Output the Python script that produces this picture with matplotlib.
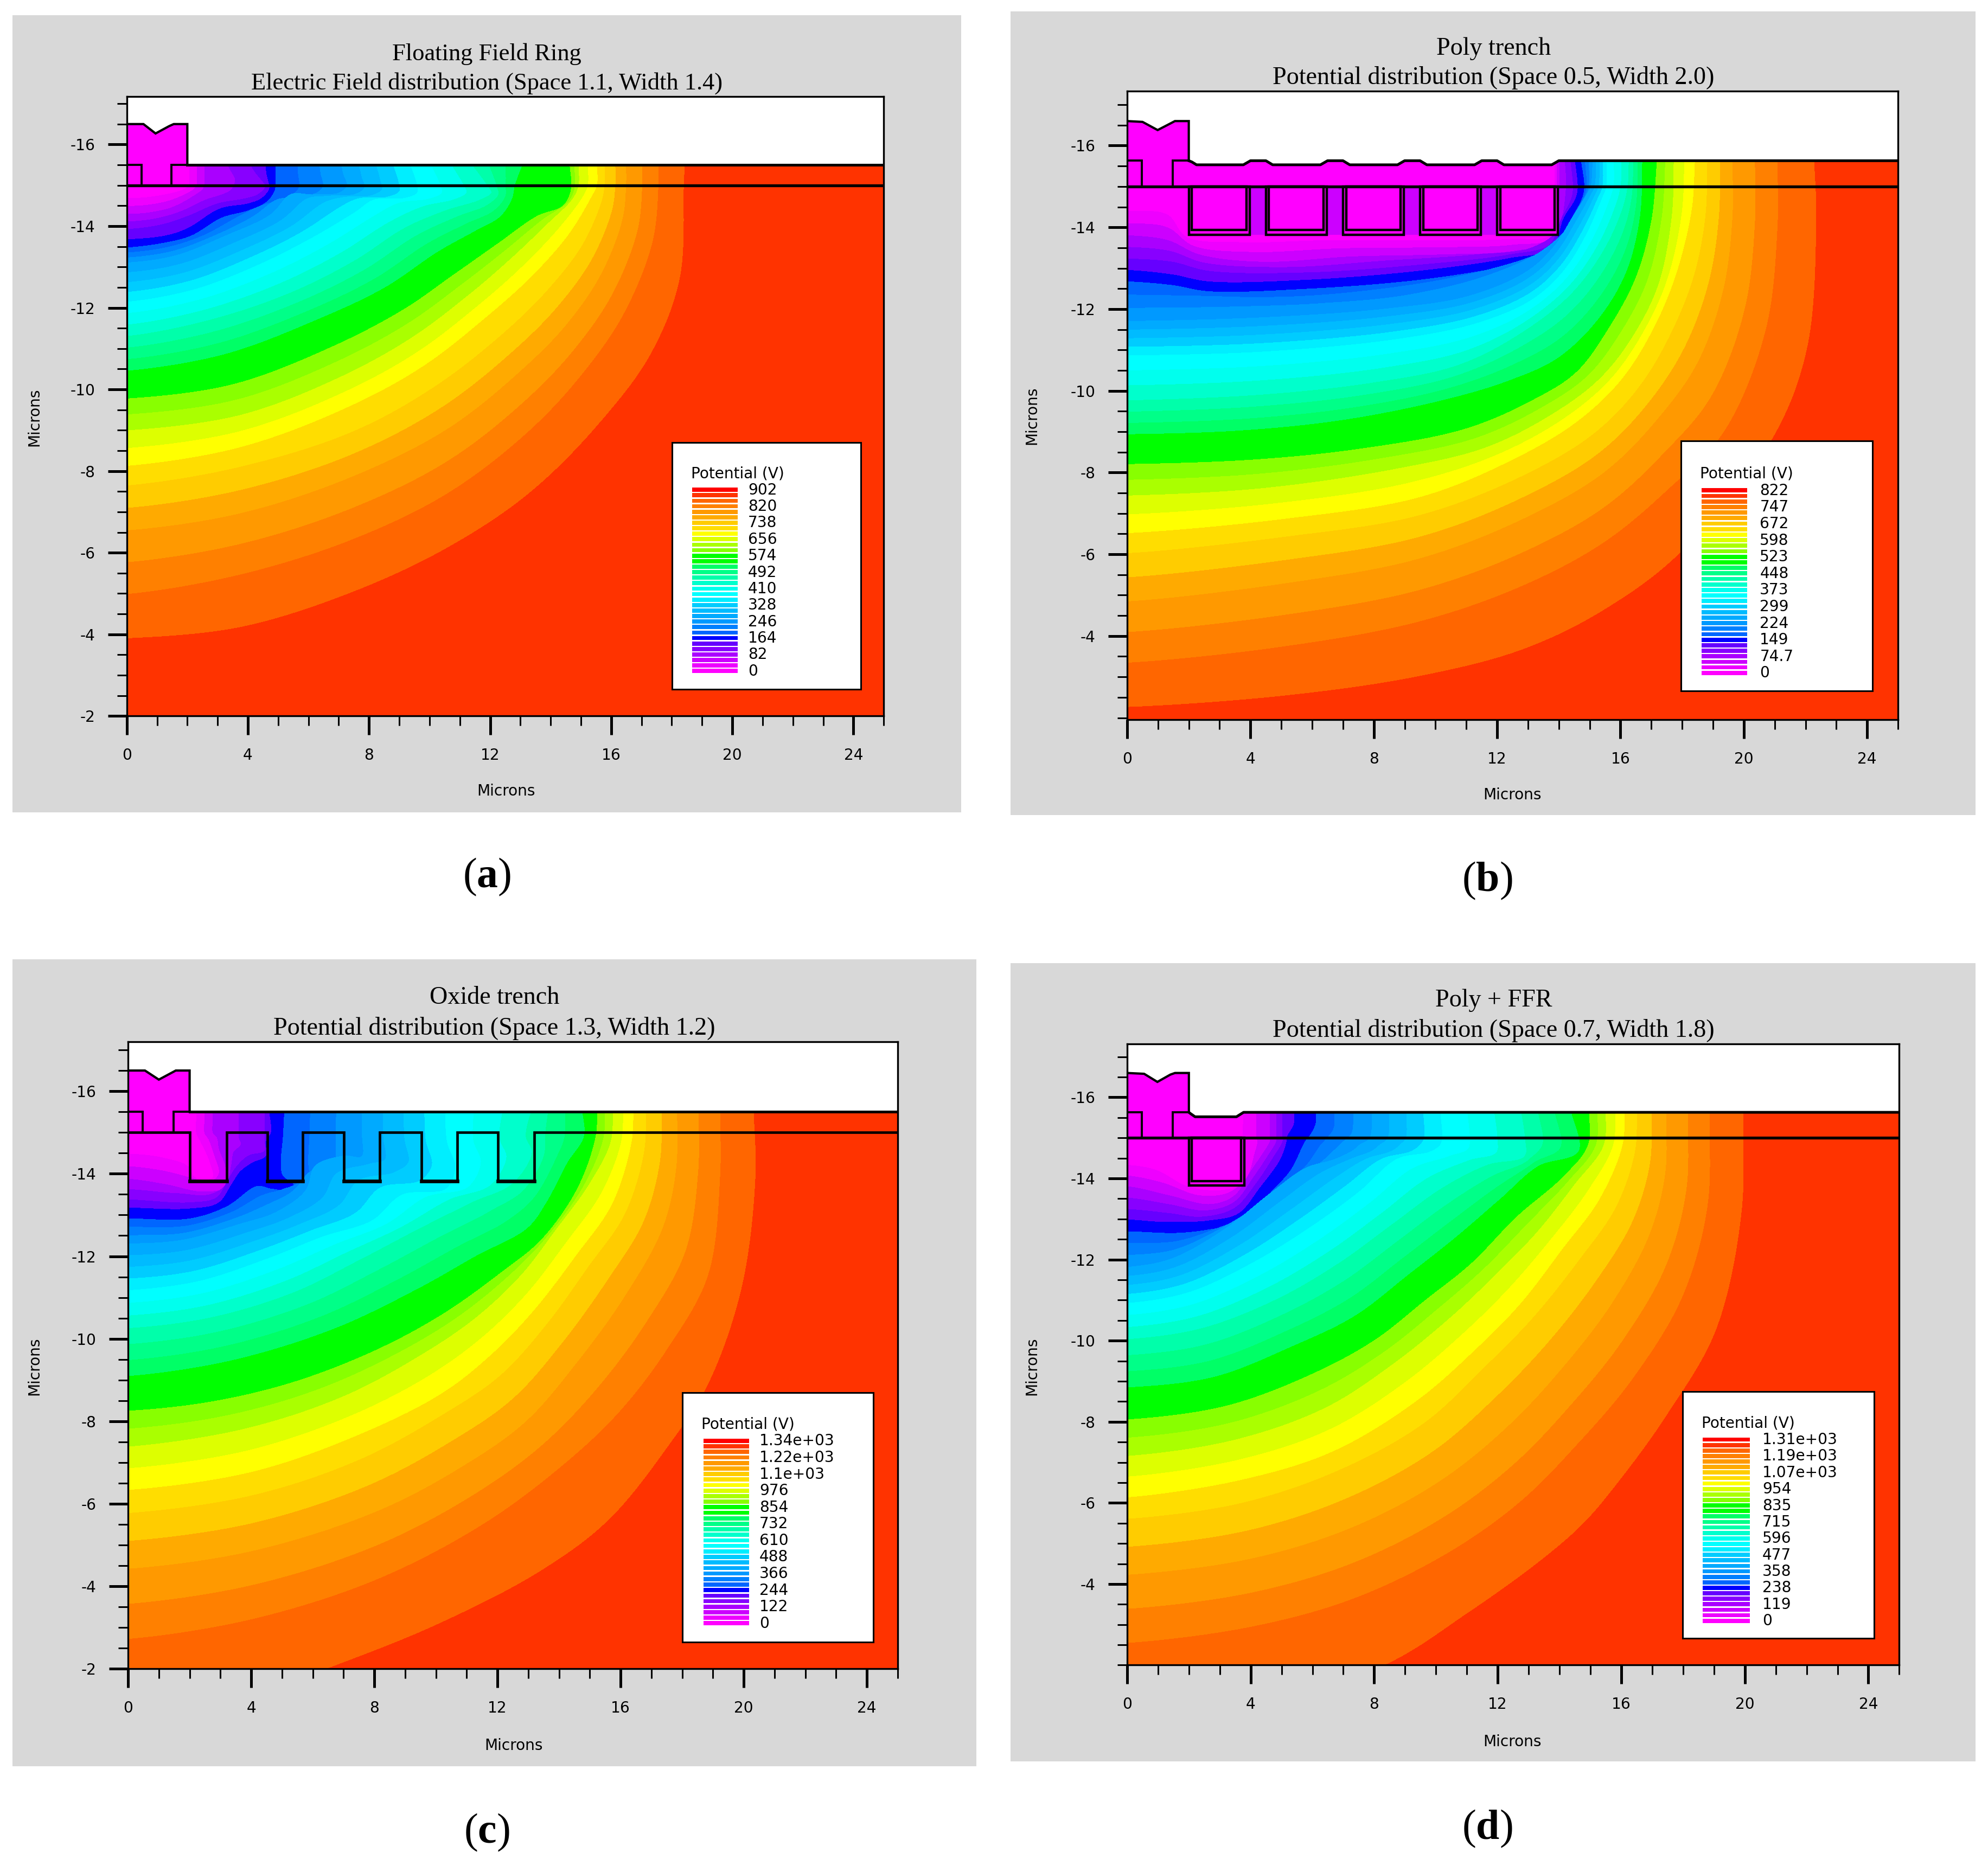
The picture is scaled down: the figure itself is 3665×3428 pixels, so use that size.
import numpy as np
import matplotlib
matplotlib.use("Agg")
import matplotlib.pyplot as plt
from matplotlib.patches import Rectangle, Polygon
from matplotlib.ticker import MultipleLocator

plt.rcParams['mathtext.fontset'] = 'custom'
plt.rcParams['mathtext.bf'] = 'Liberation Serif:bold'
plt.rcParams['mathtext.rm'] = 'Liberation Serif'

# Legend colours, top (bar 1) to bottom (bar 34)
LEGEND_COLORS = ['#ff0000','#ff3300','#ff6600','#ff8000','#ff9900','#ffaa00','#ffcc00','#ffdd00','#ffff00',
                 '#ddff00','#aaff00','#88ff00','#00ff00','#00ff00','#00ff66','#00ff88','#00ffaa','#00ffcc',
                 '#00ffee','#00ffff','#00eeff','#00ccff','#00bbff','#00aaff','#0099ff','#0080ff','#0066ff',
                 '#0000ff','#6600ff','#8800ff','#aa00ff','#cc00ff','#ee00ff','#ff00ff']
BANDS = LEGEND_COLORS[::-1]      # band j runs from level j to level j+1

# Levels of the contour lines
CONTOUR_LEVELS = [1, 3, 5, 6, 7, 10, 14, 17, 20, 22, 24, 26, 27, 29, 31, 32]

A_X = [[0,.63,1.26,1.76,2.0,2.07,2.07,2.07,2.07,2.07],
       [0,.75,1.51,2.2,2.51,2.57,2.57,2.57,2.57,2.57],
       [0,1.13,2.01,3.01,3.89,4.33,4.58,4.58,4.27,4.04],
       [0,1.26,2.01,3.07,4.02,4.46,4.71,4.71,4.62,4.59],
       [0,1.26,2.13,3.14,4.02,4.64,4.89,4.92,4.92,4.92],
       [0,1.63,3.26,4.77,5.4,6.15,7.03,7.28,7.15,7.09],
       [0,2.26,4.39,6.15,7.53,8.16,9.16,9.6,9.6,9.35],
       [0,2.76,5.4,7.53,9.16,10.54,11.67,12.05,11.92,11.36],
       [0,3.26,6.28,8.53,10.29,11.55,12.36,12.74,12.83,13.11],
       [0,3.51,6.78,9.16,10.79,12.3,13.55,14.43,14.68,14.63],
       [0,3.77,7.03,9.41,11.3,12.68,13.93,14.75,14.93,14.93],
       [0,3.77,7.28,9.79,11.92,13.43,14.62,15.37,15.54,15.54],
       [0,3.77,7.53,10.29,12.55,13.93,15.06,15.69,15.79,15.79],
       [0,3.77,7.53,10.67,13.05,14.56,15.69,16.38,16.5,16.5],
       [0,3.77,7.53,10.67,13.3,15.06,16.44,17.38,17.57,17.57],
       [0,3.77,7.53,10.67,13.3,15.56,17.32,18.26,18.39,18.42]]
A_Y = [[-14.68,-14.70,-14.77,-14.86,-14.95,-15,-15.21,-15.34,-15.47,-15.56],
       [-14.29,-14.33,-14.46,-14.73,-14.9,-15,-15.21,-15.34,-15.47,-15.56],
       [-13.92,-14.03,-14.24,-14.55,-14.67,-14.77,-14.95,-15,-15.3,-15.56],
       [-13.67,-13.76,-13.94,-14.42,-14.55,-14.68,-14.9,-15,-15.3,-15.56],
       [-13.47,-13.59,-13.76,-14.2,-14.38,-14.6,-14.86,-15,-15.3,-15.56],
       [-13.1,-13.28,-13.76,-14.29,-14.77,-14.77,-14.82,-15,-15.3,-15.56],
       [-12.14,-12.45,-13.06,-13.72,-14.33,-14.64,-14.68,-14.82,-15,-15.56],
       [-11.3,-11.7,-12.36,-13.15,-13.94,-14.38,-14.64,-14.82,-15,-15.56],
       [-10.45,-10.86,-11.7,-12.49,-13.37,-13.89,-14.24,-14.68,-15,-15.56],
       [-9.77,-10.12,-11.04,-11.96,-12.8,-13.59,-14.24,-14.51,-14.9,-15.56],
       [-8.99,-9.37,-10.29,-11.26,-12.31,-13.19,-14.07,-14.68,-15,-15.56],
       [-8.12,-8.58,-9.55,-10.56,-11.79,-12.8,-13.81,-14.73,-15,-15.56],
       [-7.64,-8.1,-8.98,-10.12,-11.44,-12.45,-13.54,-14.6,-15,-15.56],
       [-6.54,-6.96,-7.88,-9.06,-10.47,-11.61,-12.84,-14.16,-15,-15.56],
       [-4.98,-5.46,-6.34,-7.48,-8.98,-10.38,-11.87,-13.63,-15,-15.56],
       [-3.91,-4.19,-5.07,-6.17,-7.48,-9.15,-10.91,-12.75,-15,-15.56]]

B_X = [[0,1.31,1.90,3.65,6.57,9.49,12.41,13.80,13.87,13.87],
       [0,1.31,2.34,4.38,7.30,10.22,12.56,13.87,14.02,14.02],
       [0,1.46,2.63,5.84,9.49,12.41,13.72,14.09,14.45,14.38],
       [0,1.46,2.63,5.84,9.49,12.41,13.80,14.16,14.60,14.53],
       [0,1.46,2.63,5.84,9.49,12.41,13.80,14.38,14.82,14.72],
       [0,4.38,8.47,11.10,12.99,13.87,14.45,14.89,15.04,15.11],
       [0,4.38,8.76,11.39,13.14,14.16,14.89,15.40,15.55,15.55],
       [0,4.38,8.03,10.80,12.85,14.45,15.48,16.06,16.24,16.28],
       [0,3.65,7.01,10.22,12.41,14.02,15.33,16.21,16.64,16.72],
       [0,4.09,7.59,10.95,13.14,14.60,15.62,16.50,17.01,17.20],
       [0,4.38,8.76,11.68,13.87,15.33,16.35,17.23,17.67,17.74],
       [0,5.11,9.49,12.41,14.60,16.06,17.08,17.81,18.32,18.43],
       [0,5.11,9.49,12.85,15.18,16.64,17.67,18.40,18.76,18.83],
       [0,5.11,9.49,12.85,15.48,17.23,18.54,19.35,19.64,19.64],
       [0,5.11,9.49,12.85,15.48,17.52,19.42,20.73,21.10,21.10],
       [0,5.11,9.49,12.85,15.48,17.96,20.95,22.05,22.34,22.27]]
B_Y = [[-14.39,-14.30,-13.77,-13.63,-13.68,-13.68,-13.71,-13.86,-15,-15.7],
       [-13.80,-13.68,-13.33,-13.15,-13.28,-13.33,-13.42,-13.72,-15,-15.7],
       [-13.23,-13.15,-12.93,-12.89,-13.08,-13.33,-13.59,-14.21,-14.82,-15.7],
       [-12.95,-12.84,-12.67,-12.71,-12.93,-13.24,-13.50,-14.21,-14.82,-15.7],
       [-12.67,-12.58,-12.43,-12.49,-12.71,-13.06,-13.33,-14.16,-14.87,-15.7],
       [-11.70,-11.79,-12.01,-12.32,-12.93,-13.55,-14.25,-14.78,-15,-15.7],
       [-10.86,-10.95,-11.26,-11.66,-12.23,-12.93,-13.81,-14.69,-15,-15.7],
       [-9.76,-9.90,-10.20,-10.64,-11.44,-12.40,-13.46,-14.43,-15,-15.7],
       [-8.93,-9.02,-9.28,-9.76,-10.25,-10.82,-11.79,-12.93,-14.25,-15.7],
       [-8.20,-8.31,-8.58,-9.06,-9.76,-10.47,-11.52,-12.76,-14.16,-15.7],
       [-7.43,-7.61,-8.09,-8.62,-9.46,-10.29,-11.26,-12.58,-14.25,-15.7],
       [-6.51,-6.86,-7.39,-8.27,-9.24,-10.29,-11.52,-12.84,-14.43,-15.7],
       [-6.02,-6.42,-6.95,-7.92,-8.97,-10.12,-11.44,-12.84,-14.25,-15.7],
       [-4.84,-5.28,-5.89,-6.86,-8.00,-9.32,-10.73,-12.49,-14.25,-15.7],
       [-3.34,-3.74,-4.35,-5.23,-6.29,-7.56,-9.06,-11.52,-13.99,-15.7],
       [-2.27,-2.55,-3.03,-3.69,-4.66,-6.07,-8.88,-11.08,-14.16,-15.7]]

C_X = [[0,1.08,1.95,2.16,2.76,2.63,2.36,2.22,2.22,2.22],
       [0,1.21,2.42,3.17,3.17,2.96,2.90,2.76,2.76,2.76],
       [0,2.02,2.90,3.23,3.53,3.91,4.45,4.45,4.45,4.45],
       [0,2.02,2.96,3.37,3.64,4.04,4.49,4.49,4.65,4.58],
       [0,2.02,3.23,4.18,4.65,5.32,5.39,5.01,5.05,5.09],
       [0,1.75,3.64,4.85,5.79,6.06,7.0,7.61,7.61,7.61],
       [0,2.29,4.58,6.33,7.95,8.89,10.37,10.64,10.37,10.30],
       [0,2.69,5.39,7.54,9.43,11.18,12.53,13.13,12.93,13.13],
       [0,3.37,6.74,9.43,11.31,13.0,13.60,14.28,14.82,14.75],
       [0,2.69,5.39,8.08,10.24,12.12,13.47,14.61,15.19,15.26],
       [0,3.77,7.0,9.43,11.31,12.80,13.87,15.02,15.69,15.76],
       [0,4.04,7.54,10.24,11.85,13.20,14.55,15.76,16.37,16.43],
       [0,4.04,7.54,10.24,12.12,13.60,14.95,16.16,16.77,16.84],
       [0,4.04,8.08,10.78,12.93,14.55,16.16,17.38,17.81,17.85],
       [0,4.04,8.08,11.45,13.87,15.89,17.51,18.86,19.24,19.24],
       [3.0,6.47,10.10,13.47,15.63,17.51,18.86,19.94,20.37,20.31]]
C_Y = [[-14.48,-14.39,-14.17,-13.91,-13.91,-14.35,-14.78,-15,-15.30,-15.6],
       [-13.87,-13.74,-13.56,-13.69,-14.17,-14.61,-14.87,-15,-15.30,-15.6],
       [-13.37,-13.30,-13.43,-13.82,-14.17,-14.43,-14.56,-14.78,-15,-15.6],
       [-13.17,-13.15,-13.30,-13.74,-14.04,-14.26,-14.43,-14.78,-15,-15.6],
       [-12.91,-12.91,-13.21,-13.69,-13.63,-13.61,-13.74,-14.0,-15,-15.6],
       [-12.30,-12.39,-12.78,-13.08,-13.61,-14.17,-14.43,-14.43,-14.91,-15.6],
       [-11.17,-11.39,-11.95,-12.47,-12.87,-13.48,-13.65,-14.17,-14.78,-15.6],
       [-10.25,-10.51,-11.12,-11.91,-12.65,-13.30,-13.78,-14.52,-14.91,-15.6],
       [-9.09,-9.47,-10.25,-11.21,-12.0,-12.69,-13.30,-14.26,-14.91,-15.6],
       [-8.25,-8.47,-8.95,-9.73,-10.60,-11.60,-12.43,-13.65,-14.87,-15.6],
       [-7.38,-7.81,-8.60,-9.56,-10.51,-11.56,-12.60,-13.78,-14.78,-15.6],
       [-6.33,-6.77,-7.68,-8.69,-9.64,-10.69,-12.0,-13.30,-14.78,-15.6],
       [-5.77,-6.20,-7.07,-8.16,-9.12,-10.34,-11.73,-13.04,-14.52,-15.6],
       [-4.42,-4.85,-5.81,-6.86,-7.99,-9.38,-11.04,-12.69,-14.09,-15.6],
       [-2.72,-3.20,-4.16,-5.46,-6.77,-8.16,-9.73,-11.56,-13.91,-15.6],
       [-1.10,-2.02,-3.11,-4.42,-5.64,-7.38,-8.95,-11.30,-13.91,-15.6]]

D_X = [[0,.94,1.95,3.09,3.76,3.83,3.83,3.76,3.76,3.76],
       [0,1.34,2.69,3.49,4.03,4.43,4.63,4.63,4.63,4.63],
       [0,1.34,2.42,3.49,4.16,4.70,5.04,5.04,5.04,5.04],
       [0,1.21,2.69,3.63,4.30,4.97,5.17,5.17,5.41,5.41],
       [0,1.61,2.69,3.89,4.57,5.30,5.77,5.91,6.11,6.11],
       [0,1.48,3.22,4.70,5.77,6.72,7.32,7.52,7.86,7.95],
       [0,2.01,4.03,5.91,7.52,8.73,9.80,10.14,10.21,10.14],
       [0,2.42,4.83,6.85,8.60,10.21,11.68,12.89,12.89,12.76],
       [0,2.82,5.37,7.39,9.13,10.61,12.09,13.30,14.64,14.37],
       [0,3.22,6.04,8.06,9.67,11.15,12.62,14.10,14.93,14.97],
       [0,3.49,6.45,8.60,10.48,11.95,13.30,14.50,15.44,15.51],
       [0,3.76,6.72,9.40,11.28,12.76,14.10,15.31,16.05,16.12],
       [0,3.76,6.98,9.67,11.55,13.16,14.64,15.85,16.45,16.52],
       [0,4.03,7.39,10.21,12.36,14.10,15.71,16.92,17.43,17.46],
       [0,4.03,7.39,10.48,12.76,14.50,16.38,18.0,18.80,18.87],
       [4.0,8.33,11.01,13.43,14.77,15.85,17.46,19.07,19.88,19.94]]
D_Y = [[-14.33,-14.20,-13.80,-13.71,-13.89,-14.56,-14.91,-15,-15.35,-15.7],
       [-13.80,-13.58,-13.36,-13.58,-14.20,-14.65,-14.91,-15,-15.35,-15.7],
       [-13.24,-13.14,-13.05,-13.27,-13.85,-14.47,-14.91,-15,-15.35,-15.7],
       [-12.98,-12.92,-12.96,-13.14,-13.76,-14.47,-14.91,-15,-15.35,-15.7],
       [-12.69,-12.65,-12.74,-12.96,-13.58,-14.20,-14.91,-15.04,-15.35,-15.7],
       [-11.81,-12.03,-12.78,-13.67,-14.25,-14.47,-14.69,-14.82,-15,-15.7],
       [-10.92,-11.19,-11.90,-12.78,-13.67,-14.47,-14.65,-14.82,-15,-15.7],
       [-10.03,-10.30,-11.01,-11.90,-12.87,-13.76,-14.33,-14.56,-15,-15.7],
       [-8.84,-9.10,-9.86,-10.61,-11.63,-12.52,-13.49,-14.29,-14.69,-15.7],
       [-8.05,-8.39,-9.19,-10.03,-11.0,-11.90,-13.05,-14.02,-14.82,-15.7],
       [-7.15,-7.55,-8.35,-9.41,-10.57,-11.63,-12.69,-13.85,-14.82,-15.7],
       [-6.13,-6.57,-7.28,-8.52,-9.77,-10.92,-12.25,-13.49,-14.82,-15.7],
       [-5.60,-6.0,-6.84,-7.99,-9.32,-10.57,-11.98,-13.31,-14.65,-15.7],
       [-4.22,-4.62,-5.42,-6.57,-7.90,-9.32,-10.92,-12.61,-14.11,-15.7],
       [-2.54,-2.94,-3.65,-4.80,-6.04,-7.37,-9.06,-11.10,-13.31,-15.7],
       [-1.00,-2.01,-3.29,-4.62,-5.51,-6.48,-8.17,-10.30,-13.14,-15.7]]

# Device outline: field plate top, oxide surface (both in microns)
A_PLATE = ([0,.55,.95,1.4,1.55,2.0], [-16.5,-16.5,-16.27,-16.45,-16.5,-16.5])
B_PLATE = ([0,.5,.99,1.45,1.55,2.0], [-16.6,-16.58,-16.38,-16.56,-16.6,-16.6])
C_PLATE = ([0,.55,1.0,1.45,1.55,2.0], [-16.5,-16.5,-16.28,-16.46,-16.5,-16.5])
D_PLATE = ([0,.55,.98,1.4,1.55,2.0], [-16.6,-16.58,-16.38,-16.56,-16.6,-16.6])
A_SURF = ([2,25], [-15.5,-15.5])
B_SURF = ([2,2.1,2.25,3.77,4.0,4.5,4.72,6.27,6.5,7.0,7.22,8.77,9.0,9.5,9.72,11.27,11.5,12.0,12.22,13.77,14.0,25],
          [-15.63,-15.6,-15.53,-15.53,-15.63,-15.63,-15.53,-15.53,-15.63,-15.63,-15.53,-15.53,-15.63,-15.63,-15.53,-15.53,-15.63,-15.63,-15.53,-15.53,-15.63,-15.63])
C_SURF = ([2,25], [-15.5,-15.5])
D_SURF = ([2,2.05,2.2,3.54,3.77,25], [-15.63,-15.6,-15.52,-15.52,-15.63,-15.63])
CONTACT = [0.48, 1.48]
# Trenches: left, right, bottom of trench; inner poly inset and bottom
B_TRENCH_L = [2.0,4.5,7.0,9.5,12.0]
B_TRENCH_R = [3.97,6.47,8.97,11.47,13.97]
C_TRENCH_L = [2.0,4.53,7.02,9.53,12.02]
C_TRENCH_R = [3.2,5.67,8.18,10.69,13.2]
D_TRENCH_L = [2.0]
D_TRENCH_R = [3.79]
TRENCH_BOTTOM = -13.82
POLY_BOTTOM = -13.93
POLY_INSET = 0.1

A_LEGEND = ['902','820','738','656','574','492','410','328','246','164','82','0']
B_LEGEND = ['822','747','672','598','523','448','373','299','224','149','74.7','0']
C_LEGEND = ['1.34e+03','1.22e+03','1.1e+03','976','854','732','610','488','366','244','122','0']
D_LEGEND = ['1.31e+03','1.19e+03','1.07e+03','954','835','715','596','477','358','238','119','0']

PANELS = [
 dict(x=A_X,y=A_Y,plate=A_PLATE,surf=A_SURF,tl=[],tr=[],poly=False,tfs=32,
      title=['Floating Field Ring','Electric Field distribution (Space 1.1, Width 1.4)'],cap='a',legend=A_LEGEND,
      bg=(10,12,758,641),ax=(100,76,697,565),ylim=(-2,-17.18),ticks=[-16,-14,-12,-10,-8,-6,-4,-2],
      t=(384,42.5,65.5),c=(384,692),xl=(399,624.5),yl=(27,329),box=(530,349,679,544),lt=(545,374),bars=(546,582,386.5,529.5),lab=590),
 dict(x=B_X,y=B_Y,plate=B_PLATE,surf=B_SURF,tl=B_TRENCH_L,tr=B_TRENCH_R,poly=True,tfs=33.2,
      title=['Poly trench','Potential distribution (Space 0.5, Width 2.0)'],cap='b',legend=B_LEGEND,
      bg=(797,9,1558,643),ax=(889,72,1497,568),ylim=(-1.95,-17.33),ticks=[-16,-14,-12,-10,-8,-6,-4],
      t=(1178,38.5,61.5),c=(1173,695),xl=(1193,627.5),yl=(814,328),box=(1326,348,1477,545),lt=(1341,374),bars=(1342,1378,387,531),lab=1388),
 dict(x=C_X,y=C_Y,plate=C_PLATE,surf=C_SURF,tl=C_TRENCH_L,tr=C_TRENCH_R,poly=False,tfs=33.2,
      title=['Oxide trench','Potential distribution (Space 1.3, Width 1.2)'],cap='c',legend=C_LEGEND,
      bg=(10,757,770,1394),ax=(101,822,708,1317),ylim=(-2,-17.2),ticks=[-16,-14,-12,-10,-8,-6,-4,-2],
      t=(390,787.5,811.5),c=(384,1446),xl=(405,1377.5),yl=(27,1078),box=(538,1099,689,1296),lt=(553,1124),bars=(555,591,1137,1281),lab=599),
 dict(x=D_X,y=D_Y,plate=D_PLATE,surf=D_SURF,tl=D_TRENCH_L,tr=D_TRENCH_R,poly=True,tfs=33.2,
      title=['Poly + FFR','Potential distribution (Space 0.7, Width 1.8)'],cap='d',legend=D_LEGEND,
      bg=(797,760,1558,1390),ax=(889,824,1498,1314),ylim=(-2,-17.31),ticks=[-16,-14,-12,-10,-8,-6,-4],
      t=(1178,789.5,813.5),c=(1173,1443),xl=(1193,1374.5),yl=(814,1078),box=(1327,1098,1478,1293),lt=(1342,1123),bars=(1343,1380,1136,1279),lab=1390),
]

W, H = 1568.0, 1467.0
fig = plt.figure(figsize=(36.65, 34.28), dpi=100, facecolor='white')
FT = fig.transFigure
def fx(x): return x / W
def fy(y): return 1 - y / H

def smooth_curve(xs, ys, n=24):
    """Centripetal Catmull-Rom through the read points; the curve starts left of the frame."""
    P = np.column_stack([np.r_[xs[0] - 1.5, xs], np.r_[ys[0], ys]])
    Q = np.vstack([2 * P[0] - P[1], P, 2 * P[-1] - P[-2]])
    out = []
    for i in range(1, len(Q) - 2):
        p0, p1, p2, p3 = Q[i - 1], Q[i], Q[i + 1], Q[i + 2]
        t0 = 0.0
        t1 = t0 + max(np.linalg.norm(p1 - p0), 1e-3) ** 0.5
        t2 = t1 + max(np.linalg.norm(p2 - p1), 1e-3) ** 0.5
        t3 = t2 + max(np.linalg.norm(p3 - p2), 1e-3) ** 0.5
        tt = np.linspace(t1, t2, n, endpoint=False)[:, None]
        a1 = (t1 - tt) / (t1 - t0) * p0 + (tt - t0) / (t1 - t0) * p1
        a2 = (t2 - tt) / (t2 - t1) * p1 + (tt - t1) / (t2 - t1) * p2
        a3 = (t3 - tt) / (t3 - t2) * p2 + (tt - t2) / (t3 - t2) * p3
        b1 = (t2 - tt) / (t2 - t0) * a1 + (tt - t0) / (t2 - t0) * a2
        b2 = (t3 - tt) / (t3 - t1) * a2 + (tt - t1) / (t3 - t1) * a3
        out.append((t2 - tt) / (t2 - t1) * b1 + (tt - t1) / (t2 - t1) * b2)
    out.append(P[-1:])
    c = np.vstack(out)
    return c[:, 0], c[:, 1]

TITLE_FONT = 'Liberation Serif'
BLACK = 'black'
TFS = 20.2
for p in PANELS:
    x0, y0, x1, y1 = p['bg']
    fig.add_artist(Rectangle((fx(x0), fy(y1)), (x1 - x0) / W, (y1 - y0) / H, transform=FT, fc='#d8d8d8', ec='none', zorder=-5))
    L, T, R, B = p['ax']
    ax = fig.add_axes([fx(L), fy(B), (R - L) / W, (B - T) / H])
    ax.set_xlim(0, 25)
    ax.set_ylim(*p['ylim'])
    ax.set_facecolor(BANDS[32])

    # band field from the contour lines
    cx, cy = [], []
    for xs, ys in zip(p['x'], p['y']):
        a, b = smooth_curve(xs, ys)
        cx.append(a); cy.append(b)
    X, Y = np.array(cx), np.array(cy)
    Z = np.repeat(np.array(CONTOUR_LEVELS, float)[:, None], X.shape[1], axis=1)
    # inside the lowest contour everything is magenta
    inner = np.column_stack([np.r_[X[0], X[0][-1], -3], np.r_[Y[0], -17.5, -17.5]])
    ax.add_patch(Polygon(inner, fc=BANDS[0], ec='none', zorder=1))
    ax.contourf(X, Y, Z, levels=np.arange(1, 33), colors=BANDS[1:32], zorder=2, antialiased=False)

    # mesa silicon between poly trenches
    if p['poly']:
        for r, l in zip(p['tr'][:-1], p['tl'][1:]):
            ax.add_patch(Rectangle((r, -15), l - r, TRENCH_BOTTOM + 15, fc=BANDS[2], ec='none', zorder=3))

    # air above the device
    px, py = p['plate']
    sx, sy = p['surf']
    air = np.column_stack([np.r_[px, sx, 25, 0], np.r_[py, sy, -18, -18]])
    ax.add_patch(Polygon(air, fc='white', ec='none', zorder=4))
    # field plate, contact
    plate = np.column_stack([np.r_[px, px[-1], 0], np.r_[py, -15, -15]])
    ax.add_patch(Polygon(plate, fc=BANDS[0], ec='none', zorder=5))
    ax.plot(np.r_[px, px[-1]], np.r_[py, sy[0]], color=BLACK, lw=3, zorder=7, solid_joinstyle='miter')
    ax.plot(sx, sy, color=BLACK, lw=3.6, zorder=7, solid_joinstyle='round')
    ledge = sy[0]
    ax.plot([0, CONTACT[0], CONTACT[0]], [ledge, ledge, -15], color=BLACK, lw=2.8, zorder=7, solid_joinstyle='miter')
    ax.plot([CONTACT[1], CONTACT[1], px[-1]], [-15, ledge, ledge], color=BLACK, lw=2.8, zorder=7, solid_joinstyle='miter')

    # silicon surface, with trenches
    if p['tl'] and not p['poly']:
        lx, ly = [0], [-15]
        for l, r in zip(p['tl'], p['tr']):
            lx += [l, l, r, r]
            ly += [-15, TRENCH_BOTTOM, TRENCH_BOTTOM, -15]
        lx.append(25); ly.append(-15)
        ax.plot(lx, ly, color=BLACK, lw=3.4, zorder=7, solid_joinstyle='miter')
        for l, r in zip(p['tl'], p['tr']):
            ax.plot([l, r], [TRENCH_BOTTOM, TRENCH_BOTTOM], color=BLACK, lw=4.8, zorder=7)
    else:
        ax.plot([0, 25], [-15, -15], color=BLACK, lw=3.8, zorder=7)
    if p['poly']:
        for l, r in zip(p['tl'], p['tr']):
            ax.add_patch(Rectangle((l, TRENCH_BOTTOM), r - l, -15 - TRENCH_BOTTOM, fc=BANDS[0], ec=BLACK, lw=3.2, zorder=6))
            ax.add_patch(Rectangle((l + POLY_INSET, POLY_BOTTOM), r - l - 2 * POLY_INSET, -15 - POLY_BOTTOM, fc=BANDS[0], ec=BLACK, lw=3.2, zorder=6))

    # frame and ticks
    for s in ax.spines.values():
        s.set_linewidth(2.4); s.set_zorder(9)
    ax.set_xticks([0, 4, 8, 12, 16, 20, 24])
    ax.set_yticks(p['ticks'])
    ax.set_yticklabels([str(v) for v in p['ticks']])
    ax.xaxis.set_minor_locator(MultipleLocator(1))
    ax.yaxis.set_minor_locator(MultipleLocator(0.5))
    ax.tick_params(which='major', direction='out', length=25, width=3.6, labelsize=TFS, pad=17, top=False, right=False)
    ax.tick_params(which='minor', direction='out', length=13, width=2.2, top=False, right=False)

    fig.text(fx(p['xl'][0]), fy(p['xl'][1]), 'Microns', fontsize=TFS, ha='center', va='center')
    fig.text(fx(p['yl'][0]), fy(p['yl'][1]), 'Microns', fontsize=TFS, ha='center', va='center', rotation=90)

    # titles and caption
    tx, ty1, ty2 = p['t']
    fig.text(fx(tx), fy(ty1), p['title'][0], family=TITLE_FONT, fontsize=p['tfs'], ha='center', va='center')
    fig.text(fx(tx), fy(ty2), p['title'][1], family=TITLE_FONT, fontsize=p['tfs'], ha='center', va='center')
    fig.text(fx(p['c'][0]), fy(p['c'][1]), r'($\mathbf{%s}$)' % p['cap'], family=TITLE_FONT, fontsize=56, ha='center', va='center')

    # legend
    bx0, by0, bx1, by1 = p['box']
    fig.add_artist(Rectangle((fx(bx0), fy(by1)), (bx1 - bx0) / W, (by1 - by0) / H, transform=FT, fc='white', ec='black', lw=2.2, zorder=10))
    fig.text(fx(p['lt'][0]), fy(p['lt'][1]), 'Potential (V)', fontsize=TFS, ha='left', va='center', zorder=11)
    b0, b1, yt, yb = p['bars']
    ys = np.linspace(yt, yb, len(LEGEND_COLORS))
    pitch = ys[1] - ys[0]
    for yy, col in zip(ys, LEGEND_COLORS):
        fig.add_artist(Rectangle((fx(b0), fy(yy + pitch * 0.38)), (b1 - b0) / W, pitch * 0.76 / H, transform=FT, fc=col, ec='none', zorder=11))
    for i, lab in enumerate(p['legend']):
        fig.text(fx(p['lab']), fy(ys[i * 3] + 0.2), lab, fontsize=TFS, ha='left', va='center', zorder=11)

fig.savefig('out.png', dpi=100, facecolor='white')
